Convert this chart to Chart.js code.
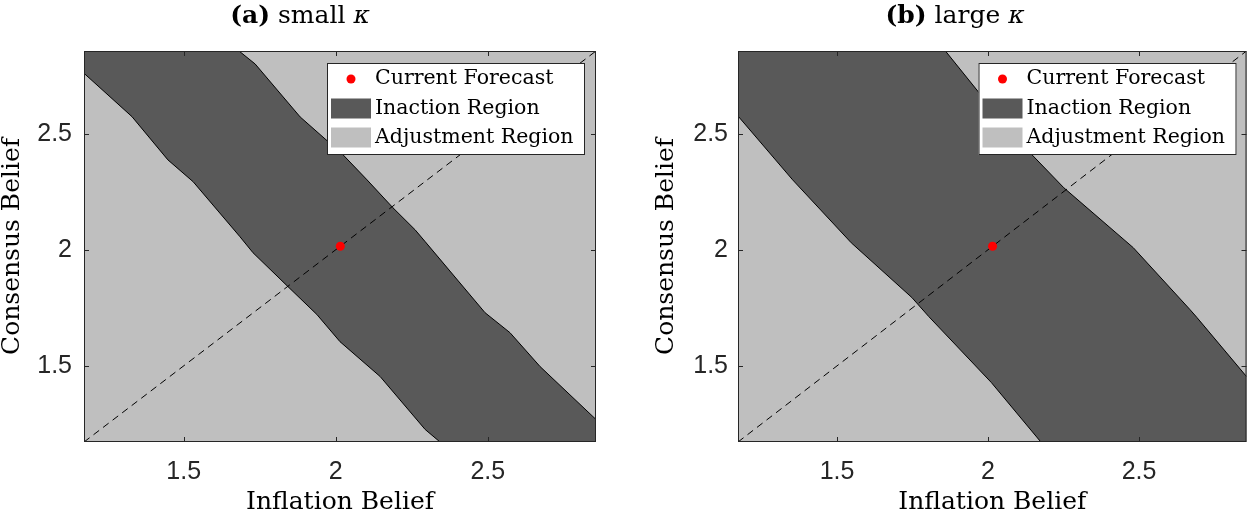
<!DOCTYPE html>
<html>
<head>
<meta charset="utf-8">
<script src="https://cdn.jsdelivr.net/npm/chart.js@4.4.1/dist/chart.umd.min.js"></script>
<style>
    body { margin: 0; background: #fff; }
    #wrap { position: relative; width: 1251px; height: 516px; }
    canvas { position: absolute; top: 0; }
</style>
</head>
<body>
<div id="wrap">
    <canvas id="panelA" width="625" height="516" style="left:0"></canvas>
    <canvas id="panelB" width="626" height="516" style="left:625px"></canvas>
</div>
<script>
// Axis range (same for both axes, the dashed 45 degree line runs corner to corner)
const AXIS_MIN = 1.172;
const AXIS_MAX = 2.856;
const tickValues = [1.5, 2, 2.5];

const xTitle = 'Inflation Belief';
const yTitle = 'Consensus Belief';
const legendLabels = ['Current Forecast', 'Inaction Region', 'Adjustment Region'];

// Current forecast (red dot), same in both panels
const forecastPoint = [2.015, 2.015];

// Panel (a) small kappa: lower and upper edges of the inaction band, [inflation, consensus]
const smallLower = [[1.172, 2.760], [1.330, 2.573], [1.448, 2.387], [1.531, 2.293], [1.685, 2.056],
    [1.728, 1.987], [1.843, 1.841], [1.938, 1.721], [2.014, 1.604], [2.146, 1.454],
    [2.294, 1.226], [2.343, 1.172]];
const smallUpper = [[1.682, 2.856], [1.735, 2.800], [1.883, 2.572], [2.024, 2.409], [2.103, 2.301],
    [2.188, 2.181], [2.261, 2.086], [2.294, 2.035], [2.491, 1.729], [2.573, 1.643],
    [2.672, 1.497], [2.856, 1.269]];

// Panel (b) large kappa
const largeLower = [[1.172, 2.576], [1.353, 2.301], [1.547, 2.030], [1.748, 1.794], [1.804, 1.712],
    [2.011, 1.428], [2.175, 1.172]];
const largeUpper = [[1.859, 2.856], [1.968, 2.680], [2.136, 2.422], [2.251, 2.267], [2.481, 2.009],
    [2.669, 1.742], [2.692, 1.708], [2.856, 1.454]];

const DARK = '#595959';
const LIGHT = '#bfbfbf';
const AXIS_COLOR = '#262626';
const SERIF = "'DejaVu Serif', serif";
const SANS = "'Liberation Sans', Arial, sans-serif";

const toXY = pts => pts.map(p => ({ x: p[0], y: p[1] }));

// Draws the dark background, the boxed axes with inward ticks, the legend and the title.
const panelPlugin = {
    id: 'panel',
    beforeDraw(chart) {
        const { ctx, chartArea: a } = chart;
        ctx.save();
        ctx.fillStyle = DARK;
        ctx.fillRect(a.left, a.top, a.right - a.left, a.bottom - a.top);
        ctx.restore();
    },
    afterDraw(chart, args, opts) {
        const { ctx, chartArea: a } = chart;
        const xs = chart.scales.x, ys = chart.scales.y;
        ctx.save();

        // box + ticks
        ctx.strokeStyle = AXIS_COLOR;
        ctx.lineWidth = 1;
        ctx.strokeRect(a.left + 0.5, a.top + 0.5, a.right - a.left - 1, a.bottom - a.top - 1);
        ctx.beginPath();
        tickValues.forEach(v => {
            const px = Math.round(xs.getPixelForValue(v)) + 0.5;
            ctx.moveTo(px, a.bottom); ctx.lineTo(px, a.bottom - 5);
            ctx.moveTo(px, a.top); ctx.lineTo(px, a.top + 5);
            const py = Math.round(ys.getPixelForValue(v)) + 0.5;
            ctx.moveTo(a.left, py); ctx.lineTo(a.left + 5, py);
            ctx.moveTo(a.right, py); ctx.lineTo(a.right - 5, py);
        });
        ctx.stroke();

        // legend
        const bw = 258, bh = 92;
        const bx = a.right - opts.legendRight - bw, by = a.top + 12;
        ctx.fillStyle = '#fff';
        ctx.fillRect(bx, by, bw, bh);
        ctx.strokeStyle = AXIS_COLOR;
        ctx.strokeRect(bx + 0.5, by + 0.5, bw - 1, bh - 1);
        const rows = [by + 16, by + 45.5, by + 74.5];
        ctx.fillStyle = 'red';
        ctx.beginPath();
        ctx.arc(bx + 24, rows[0], 4.5, 0, Math.PI * 2);
        ctx.fill();
        ctx.fillStyle = DARK;
        ctx.fillRect(bx + 4, rows[1] - 10, 40, 20);
        ctx.fillStyle = LIGHT;
        ctx.fillRect(bx + 4, rows[2] - 10, 40, 20);
        ctx.fillStyle = '#000';
        ctx.font = '20.5px ' + SERIF;
        ctx.textBaseline = 'middle';
        legendLabels.forEach((t, i) => ctx.fillText(t, bx + 48, rows[i]));

        // title, e.g. "(a) small κ"
        const parts = [
            { t: opts.title[0], f: 'bold 25px ' + SERIF },
            { t: ' ' + opts.title[1] + ' ', f: '25px ' + SERIF },
            { t: opts.title[2], f: 'italic 25px ' + SERIF }
        ];
        let w = 0;
        parts.forEach(p => { ctx.font = p.f; p.w = ctx.measureText(p.t).width; w += p.w; });
        let x = opts.titleCenter - w / 2;
        ctx.textBaseline = 'alphabetic';
        ctx.fillStyle = '#000';
        parts.forEach(p => { ctx.font = p.f; ctx.fillText(p.t, x, 23); x += p.w; });
        ctx.restore();
    }
};

function makePanel(id, lower, upper, cfg) {
    const diagonal = [[AXIS_MIN, AXIS_MIN], [AXIS_MAX, AXIS_MAX]];
    const tickOpts = pad => ({
        font: { family: SANS, size: 25 }, color: AXIS_COLOR, padding: pad,
        callback: v => String(v)
    });
    return new Chart(document.getElementById(id).getContext('2d'), {
        type: 'line',
        data: {
            datasets: [
                {
                    data: toXY([forecastPoint]), showLine: false,
                    pointRadius: 4.5, pointBackgroundColor: 'red', pointBorderWidth: 0
                },
                {
                    data: toXY(diagonal), borderColor: '#000', borderWidth: 1,
                    borderDash: [7, 5], pointRadius: 0, fill: false
                },
                {
                    data: toXY(lower), borderColor: '#000', borderWidth: 1,
                    pointRadius: 0, fill: 'start', backgroundColor: LIGHT
                },
                {
                    data: toXY(upper), borderColor: '#000', borderWidth: 1,
                    pointRadius: 0, fill: 'end', backgroundColor: LIGHT
                }
            ]
        },
        options: {
            responsive: false,
            animation: false,
            events: [],
            layout: { padding: { left: 0, right: cfg.padRight, top: 51, bottom: 0 } },
            plugins: {
                legend: { display: false },
                tooltip: { enabled: false },
                panel: { title: cfg.title, titleCenter: cfg.titleCenter, legendRight: cfg.legendRight }
            },
            scales: {
                x: {
                    type: 'linear', min: AXIS_MIN, max: AXIS_MAX,
                    afterBuildTicks: s => { s.ticks = tickValues.map(v => ({ value: v })); },
                    afterFit: s => { s.height = 74; },
                    grid: { display: false, drawTicks: false },
                    border: { display: false },
                    ticks: tickOpts(15),
                    title: {
                        display: true, text: xTitle, color: '#000',
                        font: { family: SERIF, size: 25, lineHeight: 1 },
                        padding: { top: 0, bottom: 1.5 }
                    }
                },
                y: {
                    type: 'linear', min: AXIS_MIN, max: AXIS_MAX,
                    afterBuildTicks: s => { s.ticks = tickValues.map(v => ({ value: v })); },
                    afterFit: s => { s.width = cfg.yWidth; },
                    grid: { display: false, drawTicks: false },
                    border: { display: false },
                    ticks: tickOpts(cfg.yTickPad),
                    title: {
                        display: true, text: yTitle, color: '#000',
                        font: { family: SERIF, size: 25, lineHeight: 1 },
                        padding: { top: cfg.yTitlePad, bottom: 0 }
                    }
                }
            }
        },
        plugins: [panelPlugin]
    });
}

makePanel('panelA', smallLower, smallUpper, {
    title: ['(a)', 'small', 'κ'], titleCenter: 300, legendRight: 11,
    padRight: 29, yWidth: 84, yTickPad: 12, yTitlePad: 0
});
makePanel('panelB', largeLower, largeUpper, {
    title: ['(b)', 'large', 'κ'], titleCenter: 330, legendRight: 10,
    padRight: 1, yWidth: 113, yTickPad: 10, yTitlePad: 28.5
});
</script>
</body>
</html>
